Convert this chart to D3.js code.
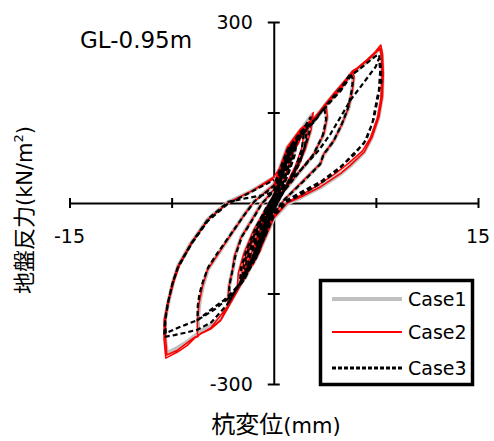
<!DOCTYPE html>
<html>
<head>
<meta charset="utf-8">
<script src="https://cdn.jsdelivr.net/npm/d3@7"></script>
<style>
  body { margin: 0; background: #fff; }
  svg { display: block; font-family: "DejaVu Sans", "Noto Sans CJK JP", sans-serif; }
</style>
</head>
<body>
<svg id="chart" width="494" height="441"></svg>
<script>
// axis ranges and ticks
const xDomain = [-15, 15];
const yDomain = [-300, 300];
const xTicks = [-15, -7.5, 0, 7.5, 15];
const yTicks = [-300, -150, 0, 150, 300];
const xLabels = [-15, 15];
const yLabels = [-300, 300];

const seriesNames = ['Case1', 'Case2', 'Case3'];

// pile displacement (mm), subgrade reaction (kN/m2)
const case1 = [
  [0,0],[0.4,40],[0.7,62],[0.55,40],[0.1,5],[-0.4,-32],[-0.7,-60],[-0.55,-38],[-0.1,-2],[0.4,36],
  [1.1,88],[1.4,100],[1.25,76],[0.8,42],[0.2,6],[-0.5,-36],[-1.1,-78],[-1.45,-98],[-1.3,-72],[-0.8,-36],[-0.2,0],[0.4,32],
  [1.0,78],[1.7,112],[1.5,86],[1.0,54],[0.4,18],[-0.3,-20],[-1.1,-70],[-1.9,-112],[-1.7,-82],[-1.1,-46],[-0.4,-10],[0.3,28],
  [1.1,80],[1.9,112],[2.4,122],[2.3,98],[1.9,68],[1.2,38],[0.4,8],[-0.4,-26],[-1.3,-84],[-2.1,-124],[-2.0,-100],[-1.7,-76],[-1.1,-42],[-0.4,-8],[0.3,24],
  [1.2,86],[2.1,124],[2.8,146],[2.7,120],[2.2,84],[1.4,46],[0.5,12],[-0.4,-28],[-1.4,-88],[-2.6,-140],[-2.5,-112],[-2.1,-80],[-1.4,-44],[-0.5,-8],[0.3,22],
  [1.0,74],[2.0,116],[2.96,136],[3.45,150],[3.8,162],[3.9,141],[3.65,113],[2.93,80],[1.95,53],[0.98,26],[0.25,8],[-0.5,-22],[-1.2,-76],[-2.4,-128],[-3.35,-168],
  [-3.27,-137],[-3.0,-109],[-2.86,-88],[-2.4,-57],[-1.67,-30],[-0.93,-2],[0,21],
  [0.5,54],[1.0,86],[1.98,119],[2.47,128],[2.96,138],[3.8,163],[4.43,180],[5.04,196],[5.74,215],[5.86,207],[5.74,185],[5.5,158],[5.0,130],[4.4,103],[3.66,80],
  [3.42,65],[2.45,43],[1.47,21],[0.74,4],[0,-20],[-1.2,-84],[-2.4,-131],[-3.3,-168],[-3.9,-190],[-4.6,-203],[-5.3,-211],[-5.55,-216],[-5.57,-192],[-5.45,-164],
  [-5.2,-137],[-4.84,-110],[-4.1,-85],[-3.14,-52],[-2.16,-19],[-1.43,3],[0,30],
  [0.5,61],[1.0,92],[1.98,121],[2.96,139],[3.94,165],[4.92,189],[5.74,216],[6.14,221],[6.88,235],[7.45,248],[7.82,258],[7.94,245],[8.0,213],[7.94,175],[7.69,142],
  [7.2,109],[6.6,83],[5.58,61],[4.9,48],[3.43,26],[1.97,9],[1.0,-1],[0,-25],[-1.2,-87],[-2.4,-133],[-3.4,-172],[-3.9,-191],[-4.63,-205],[-5.36,-213],[-5.85,-221],
  [-6.34,-230],[-7.07,-240],[-7.85,-249],[-7.98,-225],[-7.98,-192],[-7.74,-164],[-7.4,-131],[-7.03,-105],[-6.06,-66],[-4.85,-27],[-3.38,1],[-1.68,19],[0,42]
];

const case2 = [
  [0,0],[0.3,32],[0.6,58],[0.5,38],[0.2,12],[-0.3,-24],[-0.6,-55],[-0.45,-36],[-0.15,-8],[0.25,22],
  [0.6,52],[1.0,86],[0.85,62],[0.5,30],[0.05,-6],[-0.5,-42],[-1.0,-80],[-0.85,-56],[-0.45,-22],[0.05,14],[0.5,48],
  [0.8,70],[1.2,95],[1.0,70],[0.6,40],[0.0,0],[-0.6,-45],[-1.2,-88],[-1.0,-62],[-0.6,-30],[0.0,8],[0.7,58],
  [1.0,84],[1.2,80],[1.3,96],[1.5,106],[1.35,82],[0.9,46],[0.3,10],[-0.4,-30],[-1.0,-72],[-1.5,-102],[-1.35,-76],[-0.9,-40],[-0.3,-4],[0.3,30],
  [0.9,78],[1.1,74],[1.6,108],[1.45,84],[1.0,52],[0.4,18],[-0.3,-18],[-1.0,-66],[-1.2,-64],[-1.8,-108],[-1.6,-80],[-1.1,-48],[-0.4,-12],[0.4,40],
  [0.7,66],[0.9,62],[1.4,104],[1.25,74],[0.7,34],[0.1,-2],[-0.7,-52],[-0.9,-50],[-1.5,-96],[-1.3,-66],[-0.8,-32],[-0.1,4],[0.5,44],
  [1.0,78],[1.8,112],[1.9,106],[2.5,126],[2.4,102],[2.0,70],[1.3,40],[0.5,10],[-0.3,-22],[-1.2,-82],[-1.4,-80],[-2.2,-128],[-2.1,-104],[-1.8,-78],[-1.2,-44],[-0.5,-10],[0.3,26],
  [1.1,82],[1.6,104],[1.8,98],[2.3,126],[2.5,122],[2.9,150],[2.75,122],[2.3,88],[1.5,50],[0.6,14],[-0.3,-24],[-1.3,-86],[-1.9,-112],[-2.1,-108],[-2.7,-146],
  [-2.6,-116],[-2.2,-84],[-1.5,-46],[-0.6,-10],[0.2,20],
  [0.9,70],[1.5,98],[1.7,94],[2.2,118],[2.1,94],[1.6,62],[0.9,30],[0.1,0],[-0.8,-50],[-1.6,-96],[-1.8,-92],[-2.4,-134],[-2.3,-106],[-1.9,-76],[-1.2,-40],[-0.4,-4],[0.3,28],
  [1.0,76],[2.0,118],[2.96,138],[3.45,152],[3.82,165],[3.94,143],[3.69,115],[2.96,82],[1.98,55],[1.0,27],[0.27,10],[-0.5,-20],[-1.2,-76],[-2.4,-130],[-3.4,-172],
  [-3.3,-139],[-3.03,-111],[-2.9,-89],[-2.42,-58],[-1.69,-31],[-0.95,-3],[0,22],
  [0.5,55],[1.0,88],[1.98,121],[2.47,129],[2.96,140],[3.82,165],[4.43,182],[5.04,198],[5.78,218],[5.9,210],[5.78,187],[5.53,160],[5.04,132],[4.43,104],[3.69,82],
  [3.45,66],[2.47,44],[1.49,22],[0.76,5],[0,-20],[-1.2,-85],[-2.4,-133],[-3.3,-170],[-3.52,-177],[-3.9,-194],[-4.63,-208],[-5.36,-216],[-5.6,-222],[-5.6,-194],
  [-5.48,-166],[-5.24,-139],[-4.87,-111],[-4.13,-86],[-3.16,-53],[-2.18,-20],[-1.45,2],[0,30],
  [0.5,62],[1.0,93],[1.98,123],[2.96,141],[3.94,167],[4.92,191],[5.78,219],[6.14,224],[6.88,238],[7.49,251],[7.86,262],[7.98,248],[8.05,215],[7.98,176],[7.73,143],
  [7.24,110],[6.63,84],[5.6,62],[4.92,49],[3.45,27],[1.98,10],[1.0,0],[0,-25],[-1.2,-88],[-2.4,-135],[-3.4,-175],[-3.9,-195],[-4.63,-209],[-5.36,-217],[-5.85,-225],
  [-6.34,-236],[-7.07,-247],[-7.93,-257],[-8.05,-227],[-8.05,-194],[-7.8,-166],[-7.44,-133],[-7.07,-106],[-6.09,-67],[-4.87,-28],[-3.4,0],[-1.69,19],[0,43],
  [0.5,60],[1.0,90],[1.98,120],[2.96,139],[3.94,165],[4.92,189],[5.78,216],[6.88,236],[7.49,249],[7.8,256],[7.92,240],[7.95,210],[7.86,172],[7.6,140],[7.1,108],
  [6.5,86],[5.5,66],[4.6,50],[3.3,30],[2.0,13],[1.1,3],[0,-22],[-1.2,-86],[-2.4,-133],[-3.4,-172],[-4.63,-207],[-5.85,-223],[-7.07,-244],[-7.85,-252],[-7.95,-222],
  [-7.95,-190],[-7.7,-162],[-7.3,-128],[-6.9,-102],[-5.95,-64],[-4.75,-26],[-3.3,1],[-1.6,20],[0,40]
];

const case3 = [
  [0,0],[0.35,34],[0.65,60],[0.5,36],[0.15,8],[-0.35,-28],[-0.65,-58],[-0.5,-36],[-0.1,-4],[0.35,30],
  [0.8,66],[1.2,92],[1.05,66],[0.6,32],[0.05,-4],[-0.55,-44],[-1.15,-84],[-1.0,-58],[-0.5,-22],[0.1,16],
  [0.8,64],[1.45,100],[1.3,76],[0.8,40],[0.2,6],[-0.5,-36],[-1.2,-80],[-1.5,-98],[-1.3,-70],[-0.8,-34],[-0.2,2],[0.4,34],
  [0.9,74],[1.3,96],[1.15,72],[0.7,38],[0.1,0],[-0.5,-40],[-1.3,-92],[-1.1,-64],[-0.6,-28],[0.0,8],[0.6,50],
  [1.1,80],[1.9,110],[2.4,120],[2.3,96],[1.9,66],[1.2,36],[0.4,6],[-0.4,-28],[-1.3,-86],[-2.1,-122],[-2.0,-98],[-1.7,-74],[-1.1,-40],[-0.4,-6],[0.3,24],
  [1.0,76],[1.7,106],[1.55,80],[1.1,50],[0.5,16],[-0.2,-14],[-1.0,-62],[-1.9,-110],[-1.7,-82],[-1.2,-50],[-0.5,-14],[0.2,20],
  [0.8,62],[1.5,100],[1.35,70],[0.9,40],[0.2,4],[-0.6,-46],[-1.6,-100],[-1.45,-70],[-0.9,-36],[-0.2,0],[0.5,42],
  [1.2,84],[2.1,120],[2.7,142],[2.6,116],[2.1,80],[1.3,42],[0.5,10],[-0.4,-30],[-1.4,-90],[-2.5,-136],[-2.4,-108],[-2.0,-78],[-1.3,-40],[-0.5,-6],[0.3,22],
  [1.0,70],[1.9,108],[2.2,114],[2.05,88],[1.6,58],[0.9,28],[0.1,-2],[-0.9,-56],[-2.0,-112],[-2.3,-126],[-2.15,-98],[-1.7,-66],[-1.0,-32],[-0.3,0],[0.4,30],
  [1.0,72],[2.0,114],[2.96,134],[3.4,148],[3.7,158],[3.85,138],[3.6,112],[2.9,80],[1.9,52],[0.9,24],[0.2,6],[-0.5,-22],[-1.2,-74],[-2.3,-124],[-3.3,-165],
  [-3.25,-136],[-3.0,-108],[-2.8,-86],[-2.35,-56],[-1.6,-29],[-0.9,-2],[0,20],
  [0.5,52],[1.0,84],[1.98,117],[2.96,136],[3.8,160],[4.43,178],[5.04,194],[5.65,215],[5.82,205],[5.7,183],[5.45,157],[4.98,130],[4.38,102],[3.65,80],[3.4,64],
  [2.45,42],[1.45,20],[0.7,4],[0,-18],[-1.2,-80],[-2.2,-128],[-2.9,-144],[-3.65,-161],[-4.63,-177],[-5.6,-194],[-5.58,-170],[-5.45,-150],[-5.2,-130],[-4.8,-106],
  [-4.1,-82],[-3.1,-50],[-2.1,-18],[-1.4,3],[0,28],
  [0.5,58],[1.0,88],[1.98,118],[2.96,137],[3.94,162],[4.92,186],[5.7,212],[6.2,220],[6.9,233],[7.45,243],[7.73,246],[7.86,226],[7.9,200],[7.61,176],[7.24,132],
  [6.63,99],[5.65,77],[4.8,56],[3.4,32],[2.0,14],[1.0,2],[0,-22],[-1.2,-84],[-2.4,-130],[-3.4,-168],[-4.6,-198],[-5.6,-210],[-6.5,-215],[-7.3,-219],[-8.05,-222],
  [-8.0,-200],[-7.75,-164],[-7.4,-130],[-7.0,-104],[-6.0,-65],[-4.8,-26],[-3.35,2],[-2.0,8],[-1.0,12],[0,18],
  [1.0,32],[2.0,55],[3.33,88],[4.18,115],[4.92,143],[5.65,171],[6.39,193],[7.12,215],[7.49,226],[7.73,240],[7.82,220],[7.7,180],[7.35,140],[6.8,105],[5.9,80],
  [4.9,60],[3.5,36],[2.0,18],[0.9,4],[0,-15],[-1.2,-85],[-2.2,-128],[-3.16,-155],[-4.38,-177],[-5.6,-194],[-6.83,-205],[-7.93,-216],[-7.98,-195],[-7.8,-168],
  [-7.45,-134],[-7.05,-108],[-6.05,-68],[-4.85,-30],[-3.4,-2],[-1.7,18],[0,38]
];

const svg = d3.select('#chart');

const x = d3.scaleLinear().domain(xDomain).range([69.5, 478]);
const y = d3.scaleLinear().domain(yDomain).range([384, 22]);

const styles = [
  { color: '#c0c0c0', width: 4, dash: null },
  { color: '#ff0000', width: 1.5, dash: null },
  { color: '#000000', width: 2.2, dash: '5,3' }
];

// axes crossing at the origin
const xAxis = svg.append('g')
  .attr('transform', `translate(0,${y(0)})`)
  .call(d3.axisBottom(x).tickValues(xTicks).tickSize(5).tickFormat('').tickSizeOuter(0));
xAxis.selectAll('.tick line').attr('y1', -5).attr('stroke-width', 2);
xAxis.select('.domain').attr('stroke-width', 2);

const yAxis = svg.append('g')
  .attr('transform', `translate(${x(0)},0)`)
  .call(d3.axisLeft(y).tickValues(yTicks.filter(d => d !== 0)).tickSize(6).tickFormat('').tickSizeOuter(0));
yAxis.selectAll('.tick line').attr('x1', 6).attr('stroke-width', 2);
yAxis.select('.domain').attr('stroke-width', 2);

svg.selectAll('.xlab')
  .data(xLabels)
  .enter()
  .append('text')
  .attr('x', d => x(d))
  .attr('y', 243)
  .attr('text-anchor', 'middle')
  .attr('font-size', 19)
  .text(d => d);

svg.selectAll('.ylab')
  .data(yLabels)
  .enter()
  .append('text')
  .attr('x', x(0) - 21)
  .attr('y', d => y(d) + 7)
  .attr('text-anchor', 'end')
  .attr('font-size', 19)
  .text(d => d);

// curves
const line = d3.line().x(d => x(d[0])).y(d => y(d[1]));

[case1, case2, case3].forEach((pts, i) => {
  svg.append('path')
    .datum(pts)
    .attr('fill', 'none')
    .attr('stroke', styles[i].color)
    .attr('stroke-width', styles[i].width)
    .attr('stroke-linejoin', 'round')
    .attr('stroke-dasharray', styles[i].dash)
    .attr('d', line);
});

// title
svg.append('text')
  .attr('x', 80)
  .attr('y', 48)
  .attr('font-size', 23)
  .text('GL-0.95m');

// axis titles
const xt = svg.append('text')
  .attr('x', 276)
  .attr('y', 433)
  .attr('text-anchor', 'middle');
xt.append('tspan').attr('font-family', 'Noto Sans CJK JP').attr('font-size', 24).text('杭変位');
xt.append('tspan').attr('font-size', 21).text('(mm)');

const yt = svg.append('text')
  .attr('transform', 'translate(32,210) rotate(-90)')
  .attr('text-anchor', 'middle');
yt.append('tspan').attr('font-family', 'Noto Sans CJK JP').attr('font-size', 22).text('地盤反力');
yt.append('tspan').attr('font-size', 21).text('(kN/m');
yt.append('tspan').attr('font-size', 13).attr('dy', -9).text('2');
yt.append('tspan').attr('font-size', 21).attr('dy', 9).text(')');

// legend
const legend = svg.append('g');
legend.append('rect')
  .attr('x', 320.5)
  .attr('y', 280.5)
  .attr('width', 152)
  .attr('height', 104)
  .attr('fill', '#fff')
  .attr('stroke', '#000')
  .attr('stroke-width', 3.5);

const rows = legend.selectAll('.row')
  .data(seriesNames)
  .enter()
  .append('g')
  .attr('transform', (d, i) => `translate(0,${[299, 332, 368][i]})`);

rows.append('line')
  .attr('x1', 332)
  .attr('x2', 402)
  .attr('stroke', (d, i) => styles[i].color)
  .attr('stroke-width', (d, i) => [4, 2, 3][i])
  .attr('stroke-dasharray', (d, i) => (i === 2 ? '4,2' : null));

rows.append('text')
  .attr('x', 408)
  .attr('y', 7)
  .attr('font-size', 19)
  .text(d => d);
</script>
</body>
</html>
